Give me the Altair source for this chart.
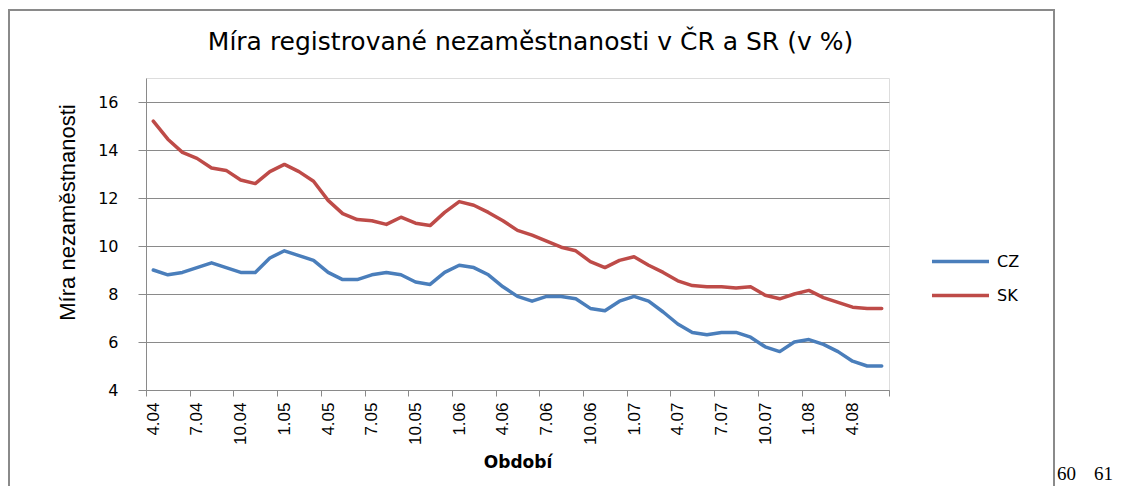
import json
import altair as alt
import pandas as pd

# ---- data ----
PERIODS = [
    "4.04", "5.04", "6.04", "7.04", "8.04", "9.04", "10.04", "11.04", "12.04",
    "1.05", "2.05", "3.05", "4.05", "5.05", "6.05", "7.05", "8.05", "9.05", "10.05", "11.05", "12.05",
    "1.06", "2.06", "3.06", "4.06", "5.06", "6.06", "7.06", "8.06", "9.06", "10.06", "11.06", "12.06",
    "1.07", "2.07", "3.07", "4.07", "5.07", "6.07", "7.07", "8.07", "9.07", "10.07", "11.07", "12.07",
    "1.08", "2.08", "3.08", "4.08", "5.08", "6.08",
]
CZ = [9.0, 8.8, 8.9, 9.1, 9.3, 9.1, 8.9, 8.9, 9.5, 9.8, 9.6, 9.4, 8.9, 8.6, 8.6, 8.8, 8.9,
      8.8, 8.5, 8.4, 8.9, 9.2, 9.1, 8.8, 8.3, 7.9, 7.7, 7.9, 7.9, 7.8, 7.4, 7.3, 7.7, 7.9,
      7.7, 7.25, 6.75, 6.4, 6.3, 6.4, 6.4, 6.2, 5.8, 5.6, 6.0, 6.1, 5.9, 5.6, 5.2, 5.0, 5.0]
SK = [15.2, 14.45, 13.9, 13.65, 13.25, 13.15, 12.75, 12.6, 13.1, 13.4, 13.1, 12.7, 11.9,
      11.35, 11.1, 11.05, 10.9, 11.2, 10.95, 10.85, 11.4, 11.85, 11.7, 11.4, 11.05, 10.65,
      10.45, 10.2, 9.95, 9.8, 9.35, 9.1, 9.4, 9.55, 9.2, 8.9, 8.55, 8.35, 8.3, 8.3, 8.25,
      8.3, 7.95, 7.8, 8.0, 8.15, 7.85, 7.65, 7.45, 7.4, 7.4]
SERIES = ["CZ", "SK"]
COLORS = ["#4A7EBB", "#BE4B48"]
Y_TICKS = [4, 6, 8, 10, 12, 14, 16]
TITLE = "Míra registrované nezaměstnanosti v ČR a SR (v %)"
Y_TITLE = "Míra nezaměstnanosti"
X_TITLE = "Období"
PAGE_NUMS = ["60", "61"]

n = len(PERIODS)
df = pd.DataFrame({
    "idx": list(range(n)) * 2,
    "period": PERIODS * 2,
    "value": CZ + SK,
    "series": [SERIES[0]] * n + [SERIES[1]] * n,
})

W, H = 743, 312
BAND = W / n
tick_vals = [i - 0.5 for i in range(0, n + 1, 3)]
label_expr = f"datum.value < {n - 1} ? {json.dumps(PERIODS)}[round(datum.value + 0.5)] : ''"

GRAY = "#8a8a8a"

lines = alt.Chart(df).mark_line(strokeWidth=3.5, strokeJoin="round", strokeCap="round").encode(
    x=alt.X("idx:Q",
            scale=alt.Scale(domain=[-0.5, n - 0.5], nice=False, zero=False),
            axis=alt.Axis(values=tick_vals, labelExpr=label_expr, labelAngle=270,
                          labelOffset=BAND / 2, labelFont="Liberation Sans", labelFontSize=17,
                          labelColor="#000000", labelPadding=6, labelFlush=False,
                          labelOverlap=False, labelBound=False,
                          tickSize=6, tickColor=GRAY, domainColor=GRAY, grid=False,
                          title=X_TITLE, titleFont="DejaVu Sans", titleFontSize=17,
                          titleFontWeight="bold", titleColor="#000000", titlePadding=10)),
    y=alt.Y("value:Q",
            scale=alt.Scale(domain=[4, 17], nice=False, zero=False),
            axis=alt.Axis(values=Y_TICKS, grid=True, gridColor=GRAY, gridWidth=1,
                          tickSize=8, tickColor=GRAY, domainColor=GRAY,
                          labelFont="DejaVu Sans", labelFontSize=16, labelColor="#000000",
                          labelPadding=20,
                          title=Y_TITLE, titleFont="Liberation Sans", titleFontSize=22,
                          titleFontWeight="normal", titleColor="#000000",
                          titleAngle=270, titleX=-79, titleY=134, titleBaseline="middle",
                          titleAlign="center")),
    color=alt.Color("series:N",
                    scale=alt.Scale(domain=SERIES, range=COLORS),
                    legend=alt.Legend(title=None, orient="none", legendX=801, legendY=170,
                                      symbolType="M-2.5,0H2.5", symbolSize=520,
                                      symbolStrokeWidth=3.5, labelFont="DejaVu Sans",
                                      labelFontSize=16, labelColor="#000000",
                                      labelOffset=23, rowPadding=12, padding=0)),
)

frame = alt.Chart(pd.DataFrame({"k": [0]})).mark_rect(
    fill="transparent", stroke=GRAY, strokeWidth=2
).encode(
    x=alt.value(-137), x2=alt.value(908), y=alt.value(-68), y2=alt.value(440)
)

page60 = alt.Chart(pd.DataFrame({"k": [0]})).mark_text(
    text=PAGE_NUMS[0], font="Liberation Serif", fontSize=19, align="left",
    baseline="bottom", color="#000000"
).encode(x=alt.value(911), y=alt.value(406))
page61 = alt.Chart(pd.DataFrame({"k": [0]})).mark_text(
    text=PAGE_NUMS[1], font="Liberation Serif", fontSize=19, align="left",
    baseline="bottom", color="#000000"
).encode(x=alt.value(948), y=alt.value(406))

chart = alt.layer(frame, lines, page60, page61).properties(
    width=W, height=H,
    autosize=alt.AutoSizeParams(type="none"),
    padding={"left": 138, "top": 70, "right": 224, "bottom": 96},
    title=alt.Title(TITLE, font="DejaVu Sans", fontSize=25, fontWeight="normal",
                    color="#000000", anchor="middle", frame="group", dx=13, dy=46, offset=0),
).configure_view(strokeWidth=0).configure(background="white")

chart.save("out.html", embed_options={"renderer": "svg", "actions": False})
